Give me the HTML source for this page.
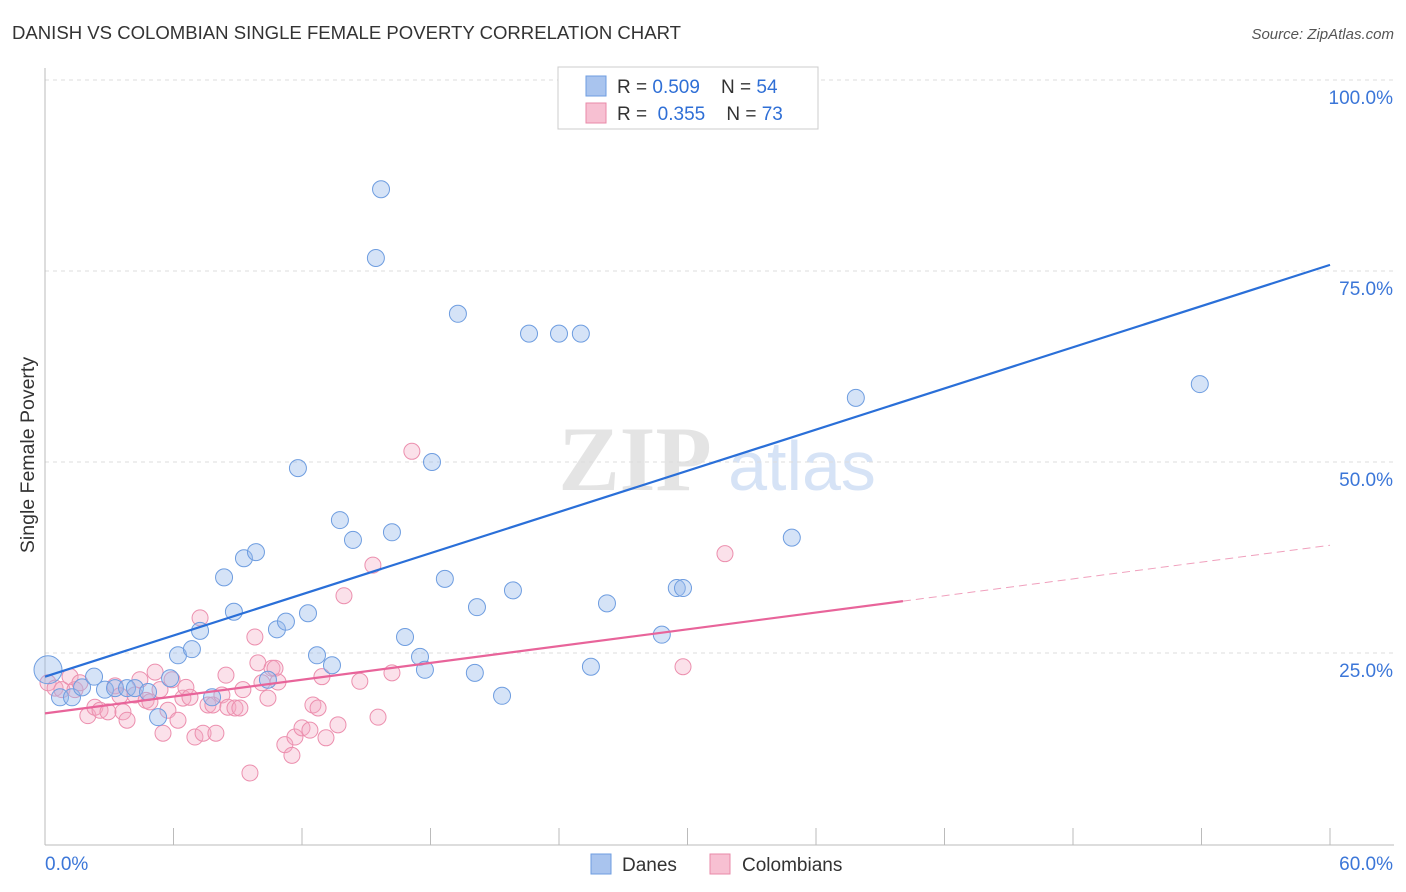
<!DOCTYPE html>
<html><head><meta charset="utf-8"><style>
body{margin:0;background:#fff;font-family:"Liberation Sans",sans-serif;}
svg{display:block}
</style></head><body>
<svg id="chart" width="1406" height="892">
<text x="12" y="39" font-size="18" textLength="669" lengthAdjust="spacingAndGlyphs" fill="#333">DANISH VS COLOMBIAN SINGLE FEMALE POVERTY CORRELATION CHART</text>
<text x="1394" y="39" font-size="15" fill="#555" font-style="italic" text-anchor="end">Source: ZipAtlas.com</text>
<g>
<text x="635" y="490" font-size="92" fill="#e4e4e4" text-anchor="middle" font-family="Liberation Serif,serif" font-weight="bold">ZIP</text>
<text x="802" y="490" font-size="70" fill="#d6e3f6" text-anchor="middle">atlas</text>
</g>
<g id="grid"></g>
<g id="axes"></g>
<g id="marks"></g>
<text transform="translate(34,455) rotate(-90)" font-size="19.5" fill="#333" text-anchor="middle">Single Female Poverty</text>
<g>
<rect x="558" y="67" width="260" height="62" fill="#fff" stroke="#ccc"/>
<rect x="586" y="76" width="20" height="20" fill="#a9c4ee" stroke="#6e9de0"/>
<text x="617" y="93" font-size="19" fill="#333" xml:space="preserve">R = <tspan fill="#2f6fd6">0.509</tspan>    N = <tspan fill="#2f6fd6">54</tspan></text>
<rect x="586" y="103" width="20" height="20" fill="#f7c0d2" stroke="#e88aa8"/>
<text x="617" y="120" font-size="19" fill="#333" xml:space="preserve">R =  <tspan fill="#2f6fd6">0.355</tspan>    N = <tspan fill="#2f6fd6">73</tspan></text>
</g>
<g>
<rect x="591" y="854" width="20" height="20" fill="#a9c4ee" stroke="#6e9de0"/>
<text x="622" y="871" font-size="19" fill="#333">Danes</text>
<rect x="710" y="854" width="20" height="20" fill="#f7c0d2" stroke="#e88aa8"/>
<text x="742" y="871" font-size="19" fill="#333">Colombians</text>
</g>
</svg>
<script>
const yTicks=[25,50,75,100];
const yTickLabels=["25.0%","50.0%","75.0%","100.0%"];
const xTicks=[0,6,12,18,24,30,36,42,48,54,60];
const danesX=[0.14,0.7,1.26,1.73,2.29,2.8,3.27,3.83,4.2,4.81,5.28,5.84,6.21,6.86,7.24,7.8,8.36,8.82,9.29,9.85,10.41,10.83,11.25,11.81,12.28,12.7,13.4,13.77,14.38,15.45,15.69,16.2,16.81,17.51,17.74,18.07,18.67,19.28,20.07,20.17,21.34,21.85,22.6,24.0,25.02,25.49,26.24,28.8,29.5,29.79,34.87,37.86,53.92,27.3];
const danesY=[22.8,19.2,19.2,20.5,21.9,20.2,20.4,20.4,20.4,19.9,16.6,21.7,24.7,25.5,27.9,19.2,34.9,30.4,37.4,38.2,21.5,28.1,29.1,49.2,30.2,24.7,23.4,42.4,39.8,76.7,85.7,40.8,27.1,24.5,22.8,50.0,34.7,69.4,22.4,31.0,19.4,33.2,66.8,66.8,66.8,23.2,31.5,27.4,33.5,33.5,40.1,58.4,60.2,100];
const colX=[0.14,0.47,0.79,1.17,1.4,1.63,2.0,2.33,2.57,2.94,3.27,3.5,3.64,3.83,4.2,4.43,4.72,4.9,5.14,5.37,5.51,5.74,5.93,6.21,6.44,6.58,6.77,7.0,7.24,7.38,7.61,7.84,7.98,8.26,8.45,8.54,8.87,9.1,9.24,9.57,9.8,9.94,10.13,10.41,10.6,10.74,10.88,11.2,11.53,11.67,12.0,12.37,12.51,12.75,12.93,13.12,13.68,13.96,14.7,15.31,15.55,16.2,17.13,31.75,29.79];
const colY=[21.1,20.4,20.2,21.9,20.2,21.1,16.8,17.9,17.5,17.3,20.7,19.4,17.3,16.2,19.5,21.5,18.8,18.6,22.5,20.2,14.5,17.5,21.5,16.2,19.1,20.5,19.2,14.0,29.6,14.5,18.2,18.2,14.5,19.5,22.1,17.9,17.8,17.8,20.2,9.3,27.1,23.7,21.1,19.1,23.0,23.0,21.2,13.0,11.6,14.0,15.2,14.9,18.2,17.8,21.9,13.9,15.6,32.5,21.3,36.5,16.6,22.4,51.4,38.0,23.2];
const danesTrend=[21.9,75.8];
const colTrend=[17.1,39.1];
const colSolidEnd=40.06;

const NS="http://www.w3.org/2000/svg";
const X=v=>45+v*(1330-45)/60;
const Y=v=>844-v*7.64;
function mk(tag,attrs,parent){const e=document.createElementNS(NS,tag);for(const k in attrs)e.setAttribute(k,attrs[k]);parent.appendChild(e);return e;}
const grid=document.getElementById('grid'),axes=document.getElementById('axes'),marks=document.getElementById('marks');
yTicks.forEach((t,i)=>{
 const l=mk('line',{x1:45,x2:1394,y1:Y(t),y2:Y(t),stroke:'#ddd','stroke-dasharray':'4,4'},grid);
 
 
 const tx=mk('text',{x:1393,y:Y(t)+24,'font-size':19,fill:'#3b76d8','text-anchor':'end'},axes);
 tx.textContent=yTickLabels[i];
 
 
});
const al=mk('line',{x1:45,x2:45,y1:68,y2:845,stroke:'#bbb'},axes);


const bl=mk('line',{x1:45,x2:1394,y1:845,y2:845,stroke:'#bbb'},axes);


xTicks.forEach(t=>{
 const l=mk('line',{x1:X(t),x2:X(t),y1:828,y2:845,stroke:'#bbb'},axes);
 
 
});
const x0=mk('text',{x:45,y:870,'font-size':19,fill:'#3b76d8'},axes);x0.textContent='0.0%';


const x1=mk('text',{x:1393,y:870,'font-size':19,fill:'#3b76d8','text-anchor':'end'},axes);x1.textContent='60.0%';



colX.forEach((v,i)=>{
 const c=mk('circle',{cx:X(v),cy:Y(colY[i]),r:8,fill:'rgba(244,170,195,0.35)',stroke:'#ec8fae','stroke-width':1},marks);
 
 
});
danesX.forEach((v,i)=>{
 const c=mk('circle',{cx:X(v),cy:Y(danesY[i]),r:i==0?14:8.5,fill:'rgba(150,185,235,0.4)',stroke:'#6e9de0','stroke-width':1},marks);
 
 
});
const tb=mk('line',{x1:X(0),y1:Y(danesTrend[0]),x2:X(60),y2:Y(danesTrend[1]),stroke:'#2a6fd8','stroke-width':2.2},marks);


const ce=colTrend[0]+(colTrend[1]-colTrend[0])*colSolidEnd/60;
const tp=mk('line',{x1:X(0),y1:Y(colTrend[0]),x2:X(colSolidEnd),y2:Y(ce),stroke:'#e8649a','stroke-width':2.2},marks);


const td=mk('line',{x1:X(colSolidEnd),y1:Y(ce),x2:X(60),y2:Y(colTrend[1]),stroke:'#f0a0bd','stroke-width':1,'stroke-dasharray':'8,5'},marks);


</script>
</body></html>
